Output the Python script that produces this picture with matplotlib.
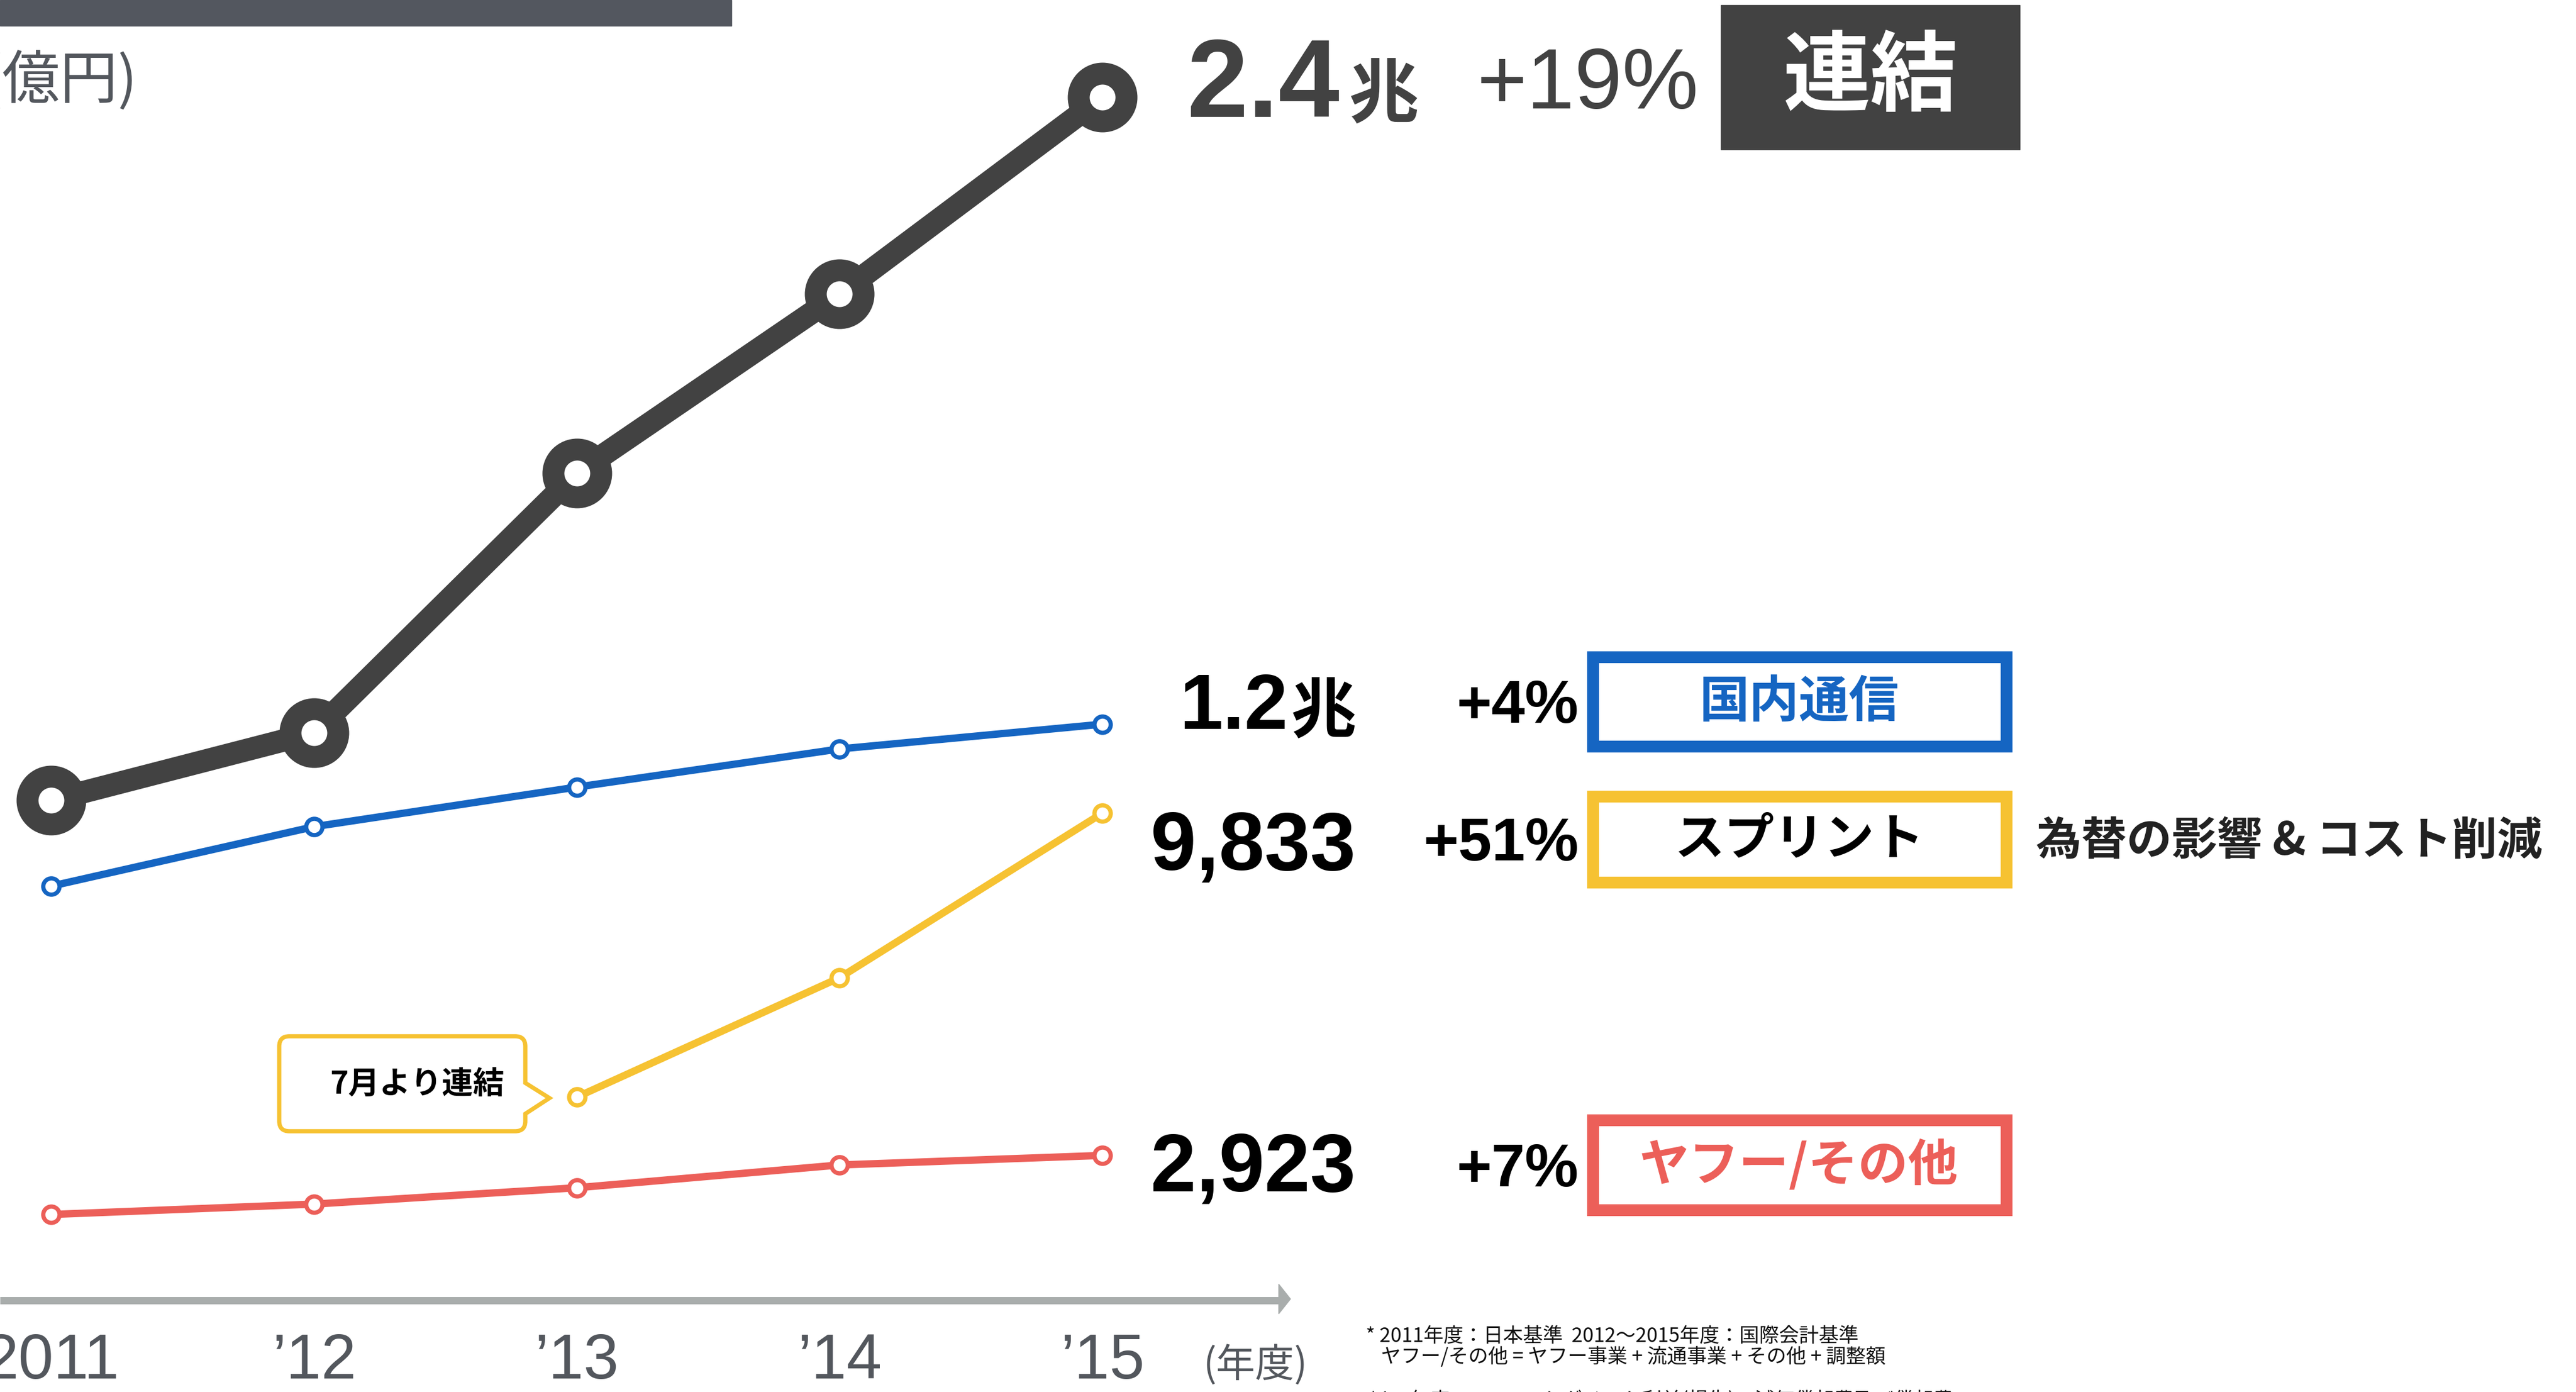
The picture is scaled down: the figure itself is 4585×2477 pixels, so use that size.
import matplotlib
matplotlib.use('Agg')
import matplotlib.pyplot as plt
from matplotlib import transforms
from matplotlib.patches import Rectangle, PathPatch, Polygon
from matplotlib.path import Path

# EBITDA (億円)
years = ['2011', '’12', '’13', '’14', '’15']
consolidated = [10090, 11460, 16700, 20320, 24290]
domestic = [8360, 9560, 10360, 11130, 11630]
sprint_years = [2, 3, 4]
sprint = [4100, 6510, 9833]
yahoo = [1730, 1940, 2270, 2730, 2923]

big_numbers = ['2.4', '1.2', '9,833', '2,923']
growth = ['+19%', '+4%', '+51%', '+7%']
segments = ['連結', '国内通信', 'スプリント', 'ヤフー/その他']

footnotes = ['* 2011年度：日本基準  2012〜2015年度：国際会計基準',
             'ヤフー/その他 = ヤフー事業 + 流通事業 + その他 + 調整額',
             "* '15年度 EBITDA：セグメント利益(損失) + 減価償却費及び償却費"]

DARK = '#424242'
BLUE = '#1565c2'
YELLOW = '#f6c232'
RED = '#ec5f59'
GRAY_TXT = '#53575d'
AXIS = '#a9adac'

W, H = 4585, 2477
fig = plt.figure(figsize=(W / 100, H / 100), dpi=100)
fig.patch.set_facecolor('white')

# pixel coordinates (origin top-left) -> figure
pxT = transforms.Affine2D().scale(1 / W, -1 / H).translate(0, 1) + fig.transFigure
PT = 72 / 100  # points per pixel

ax = fig.add_axes([0, 0, 1, 1])
ax.axis('off')
step = 467.75      # px per year
x0 = 91            # px of first year
zero_px = 2313.6   # px of value 0
ppu = 0.08813      # px per 億円
ax.set_xlim(-x0 / step, (W - x0) / step)
ax.set_ylim((zero_px - H) / ppu, zero_px / ppu)

xs = list(range(len(years)))

# x axis with arrow
ax.plot([ax.get_xlim()[0], (2282 - x0) / step], [0, 0], color=AXIS,
        lw=13 * PT, solid_capstyle='butt', zorder=1)
fig.patches.append(Polygon([(2276, 2285), (2297, 2311.5), (2276, 2338)],
                           closed=True, color=AXIS, transform=pxT))
for i, lab in enumerate(years):
    ax.text(i, (zero_px - 2424) / ppu, lab, ha='center', va='center',
            fontsize=81, color=GRAY_TXT,
            family=['Liberation Sans Narrow', 'Liberation Sans'])
fig.text(2235, 2430, '(年度)', transform=pxT, ha='center', va='center',
         fontsize=50, color=GRAY_TXT, family='Noto Sans CJK JP')

# lines
ax.plot(xs, consolidated, color=DARK, lw=40 * PT, marker='o', ms=85 * PT,
        mfc='white', mec=DARK, mew=39 * PT, solid_joinstyle='round', zorder=3)
ax.plot(xs, domestic, color=BLUE, lw=13 * PT, marker='o', ms=29 * PT,
        mfc='white', mec=BLUE, mew=7.5 * PT, zorder=3)
ax.plot(sprint_years, sprint, color=YELLOW, lw=13 * PT, marker='o', ms=29 * PT,
        mfc='white', mec=YELLOW, mew=7.5 * PT, zorder=3)
ax.plot(xs, yahoo, color=RED, lw=13 * PT, marker='o', ms=29 * PT,
        mfc='white', mec=RED, mew=7.5 * PT, zorder=3)

# header bar and unit
fig.patches.append(Rectangle((0, 0), 1302, 46, color='#53575f', transform=pxT))
fig.text(245, 145, '(億円)', transform=pxT, ha='right', va='center',
         fontsize=74, color=GRAY_TXT, family='Noto Sans CJK JP')

# callout
L, R, T, B, r = 497, 935, 1844, 2013, 18
verts = [(L + r, T), (R - r, T), (R, T), (R, T + r), (R, 1927), (978, 1954),
         (R, 1982), (R, B - r), (R, B), (R - r, B), (L + r, B), (L, B),
         (L, B - r), (L, T + r), (L, T), (L + r, T), (L + r, T)]
codes = [Path.MOVETO, Path.LINETO, Path.CURVE3, Path.CURVE3, Path.LINETO,
         Path.LINETO, Path.LINETO, Path.LINETO, Path.CURVE3, Path.CURVE3,
         Path.LINETO, Path.CURVE3, Path.CURVE3, Path.LINETO, Path.CURVE3,
         Path.CURVE3, Path.CLOSEPOLY]
fig.patches.append(PathPatch(Path(verts, codes), facecolor='white',
                             edgecolor=YELLOW, lw=7.5 * PT, transform=pxT))
fig.text(742, 1930, '7月より連結', transform=pxT, ha='center', va='center',
         fontsize=40, weight='bold', color='black', family='Noto Sans CJK JP')

# consolidated label
num_font = ['Liberation Sans', 'Noto Sans CJK JP']
cjk = 'Noto Sans CJK JP'
fig.text(2112, 208, big_numbers[0], transform=pxT, ha='left', va='baseline',
         fontsize=141, weight='bold', color=DARK, family=num_font)
fig.text(2400, 208, '兆', transform=pxT, ha='left', va='baseline',
         fontsize=90, weight='bold', color=DARK, family=cjk)
fig.text(3023, 193, growth[0], transform=pxT, ha='right', va='baseline',
         fontsize=110, color=DARK, family=num_font)
fig.patches.append(Rectangle((3063, 9), 532, 257, color=DARK, transform=pxT))
fig.text(3329, 140, segments[0], transform=pxT, ha='center', va='center',
         fontsize=112, weight='bold', color='white', family=cjk)

# segment labels
rows = [  # baseline px, box top, box bottom, colour
    (1297, 1158, 1338, BLUE),
    (1547, 1406, 1580, YELLOW),
    (2120, 1982, 2163, RED),
]
for k, (base, top, bot, col) in enumerate(rows, start=1):
    if k == 1:
        fig.text(2414, base + 5, '兆', transform=pxT, ha='right', va='baseline',
                 fontsize=84, weight='bold', color='black', family=cjk)
        fig.text(2292, base, big_numbers[k], transform=pxT, ha='right',
                 va='baseline', fontsize=100, weight='bold', color='black',
                 family=num_font)
    else:
        fig.text(2413, base, big_numbers[k], transform=pxT, ha='right',
                 va='baseline', fontsize=105, weight='bold', color='black',
                 family=num_font)
    fig.text(2810, (top + bot) / 2 + 38, growth[k], transform=pxT, ha='right',
             va='baseline', fontsize=77, weight='bold', color='black',
             family=num_font)
    bw = 21
    fig.patches.append(Rectangle((2824 + bw / 2, top + bw / 2),
                                 757 - bw, bot - top - bw, facecolor='white',
                                 edgecolor=col, lw=bw * PT, transform=pxT))
    fig.text(3202, (top + bot) / 2 + 2, segments[k], transform=pxT,
             ha='center', va='center', fontsize=64, weight='bold',
             color='black' if col == YELLOW else col, family=cjk)

fig.text(3624, 1497, '為替の影響 & コスト削減', transform=pxT, ha='left',
         va='center', fontsize=58, weight='bold', color='#222222', family=cjk)

# footnotes
fig.text(2431, 2378, footnotes[0], transform=pxT, ha='left', va='center',
         fontsize=25.5, color='#111111', family=cjk)
fig.text(2458, 2415, footnotes[1], transform=pxT, ha='left', va='center',
         fontsize=25.5, color='#111111', family=cjk)
fig.text(2436, 2492, footnotes[2], transform=pxT, ha='left', va='center',
         fontsize=25.5, color='#111111', family=cjk)

fig.savefig('out.png', dpi=100)
